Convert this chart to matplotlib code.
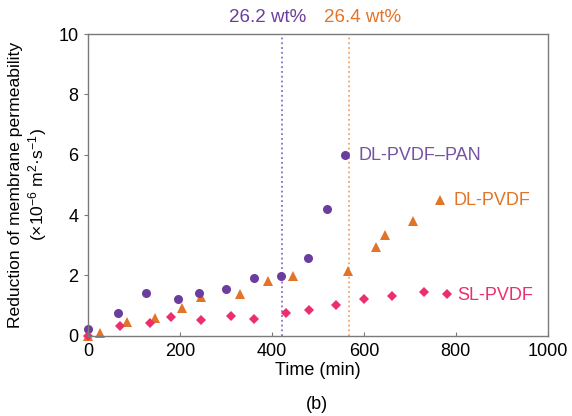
import matplotlib
matplotlib.use('Agg')
import matplotlib.pyplot as plt

plt.rcParams['font.family'] = ['Liberation Sans', 'DejaVu Sans']
plt.rcParams['mathtext.fontset'] = 'custom'
plt.rcParams['mathtext.rm'] = 'Liberation Sans'
plt.rcParams['mathtext.it'] = 'Liberation Sans:italic'

# data
pan_t = [0, 65, 125, 195, 240, 300, 360, 420, 479, 519, 559]
pan_y = [0.22, 0.75, 1.41, 1.21, 1.43, 1.54, 1.92, 1.97, 2.57, 4.20, 6.01]

dl_t = [0, 25, 85, 145, 205, 245, 331, 392, 445, 566, 626, 646, 707, 766]
dl_y = [0.0, 0.08, 0.47, 0.58, 0.92, 1.27, 1.38, 1.81, 1.97, 2.16, 2.93, 3.33, 3.81, 4.49]

sl_t = [0, 70, 135, 180, 246, 311, 361, 430, 480, 540, 601, 661, 731, 781]
sl_y = [0.0, 0.32, 0.43, 0.62, 0.51, 0.65, 0.55, 0.76, 0.85, 1.02, 1.21, 1.33, 1.46, 1.39]

line_pan = 421
line_dl = 567

purple = '#6a3d9e'
orange = '#e27428'
pink = '#ec2d6e'

fig = plt.figure(figsize=(5.72, 4.16), dpi=100)
ax = fig.add_axes([0.1544, 0.193, 0.8031, 0.7248])

ax.axvline(line_pan, color='#8a6cc8', linestyle=':', linewidth=1.3)
ax.axvline(line_dl, color='#f4a26a', linestyle=':', linewidth=1.3)

ax.plot(dl_t, dl_y, '^', color=orange, markersize=6.5, markeredgewidth=0, clip_on=False)
ax.plot(pan_t, pan_y, 'o', color=purple, markersize=6.5, markeredgewidth=0, clip_on=False)
ax.plot(sl_t, sl_y, 'D', color=pink, markersize=5, markeredgewidth=0, clip_on=False)

ax.text(391, 10.55, '26.2 wt%', color=purple, fontsize=13.5, ha='center', va='center')
ax.text(598, 10.55, '26.4 wt%', color=orange, fontsize=13.5, ha='center', va='center')

ax.text(588, 5.99, 'DL-PVDF\u2013PAN', color='#7552a3', fontsize=13, va='center')
ax.text(796, 4.50, 'DL-PVDF', color=orange, fontsize=13, va='center')
ax.text(804, 1.32, 'SL-PVDF', color=pink, fontsize=13, va='center')

ax.set_xlim(0, 1000)
ax.set_ylim(0, 10)
ax.set_xticks([0, 200, 400, 600, 800, 1000])
ax.set_yticks([0, 2, 4, 6, 8, 10])

for s in ax.spines.values():
    s.set_color('#7a7a7a')
    s.set_linewidth(1.0)

ax.tick_params(axis='y', direction='out', length=3, color='#7a7a7a', labelsize=13, pad=4)
ax.tick_params(axis='x', direction='in', length=3, color='#7a7a7a', labelsize=13, pad=5)

ax.set_xlabel('Time (min)', fontsize=13, labelpad=2)
ax.set_ylabel('Reduction of membrane permeability\n(\u00d710$^{-6}$ m$^{2}$\u00b7s$^{-1}$)',
              fontsize=12.6, labelpad=7, linespacing=1.15)

fig.text(0.5544, 0.027, '(b)', fontsize=13, ha='center', va='center')

fig.savefig('out.png', dpi=100)
